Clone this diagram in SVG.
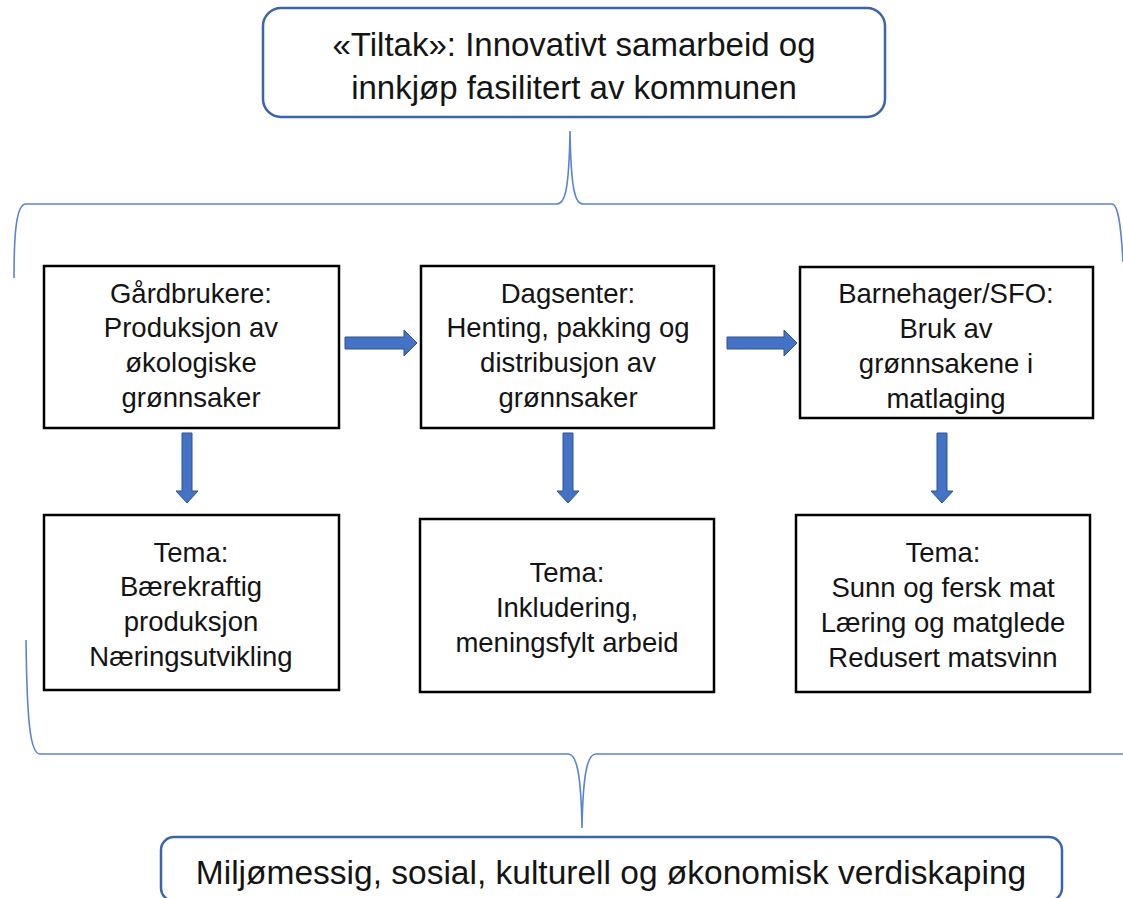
<svg xmlns="http://www.w3.org/2000/svg" width="1123" height="898" viewBox="0 0 1123 898">
<style>
.rbox{fill:#fff;stroke:#3b64ad;stroke-width:2.5}
.box{fill:#fff;stroke:#000;stroke-width:2.5}
.brace{fill:none;stroke:#5b84cf;stroke-width:1.6}
.arr{fill:#4472c4;stroke:#2f528f;stroke-width:1}
text{font-family:"Liberation Sans",Arial,sans-serif;fill:#141414;text-anchor:middle}
.big{font-size:33px}
.bot{font-size:33.5px}
.mid{font-size:27.5px}
</style>
<rect width="1123" height="898" fill="#fff"/>
<g id="connectors">
<path class="brace" d="M14,278 C14,235 16,204 26,204 L557,204 C565,204 569,190 570,131 C571,190 575,204 583,204 L1112,204 C1118,204 1121,225 1123,262"/>
<path class="brace" d="M26,640 C27,720 30,754 40,754 L568,754 C576,754 581,770 582,828 C583,770 588,754 596,754 L1123,754"/>
<path class="arr" d="M345,337 H404 V330 L417,343 L404,356 V349 H345 Z"/>
<path class="arr" d="M727,337 H784 V330 L797,343 L784,356 V349 H727 Z"/>
<path class="arr" d="M182,433 H192 V491 H198 L187,503 L176,491 H182 Z"/>
<path class="arr" d="M563,433 H573 V491 H579 L568,503 L557,491 H563 Z"/>
<path class="arr" d="M937,433 H947 V491 H953 L942,503 L931,491 H937 Z"/>
</g>
<g id="top">
<rect class="rbox" x="263" y="8" width="622" height="109" rx="18"/>
<text class="big" x="574" y="56">«Tiltak»: Innovativt samarbeid og</text>
<text class="big" x="574" y="99">innkjøp fasilitert av kommunen</text>
</g>
<g id="gardbrukere">
<rect class="box" x="44" y="266" width="295" height="162"/>
<text class="mid" x="191" y="303">Gårdbrukere:</text>
<text class="mid" x="191" y="337">Produksjon av</text>
<text class="mid" x="191" y="372">økologiske</text>
<text class="mid" x="191" y="407">grønnsaker</text>
</g>
<g id="dagsenter">
<rect class="box" x="421" y="266" width="293" height="162"/>
<text class="mid" x="568" y="303">Dagsenter:</text>
<text class="mid" x="568" y="337">Henting, pakking og</text>
<text class="mid" x="568" y="372">distribusjon av</text>
<text class="mid" x="568" y="407">grønnsaker</text>
</g>
<g id="barnehager">
<rect class="box" x="800" y="267" width="293" height="151"/>
<text class="mid" x="946" y="303">Barnehager/SFO:</text>
<text class="mid" x="946" y="338">Bruk av</text>
<text class="mid" x="946" y="373">grønnsakene i</text>
<text class="mid" x="946" y="408">matlaging</text>
</g>
<g id="tema1">
<rect class="box" x="44" y="515" width="295" height="175"/>
<text class="mid" x="191" y="562">Tema:</text>
<text class="mid" x="191" y="596">Bærekraftig</text>
<text class="mid" x="191" y="631">produksjon</text>
<text class="mid" x="191" y="666">Næringsutvikling</text>
</g>
<g id="tema2">
<rect class="box" x="420" y="519" width="294" height="173"/>
<text class="mid" x="567" y="582">Tema:</text>
<text class="mid" x="567" y="617">Inkludering,</text>
<text class="mid" x="567" y="652">meningsfylt arbeid</text>
</g>
<g id="tema3">
<rect class="box" x="796" y="515" width="294" height="177"/>
<text class="mid" x="943" y="562">Tema:</text>
<text class="mid" x="943" y="597">Sunn og fersk mat</text>
<text class="mid" x="943" y="632">Læring og matglede</text>
<text class="mid" x="943" y="667">Redusert matsvinn</text>
</g>
<g id="bottom">
<rect class="rbox" x="161" y="837" width="901" height="64" rx="13"/>
<text class="bot" x="611" y="884">Miljømessig, sosial, kulturell og økonomisk verdiskaping</text>
</g>
</svg>
